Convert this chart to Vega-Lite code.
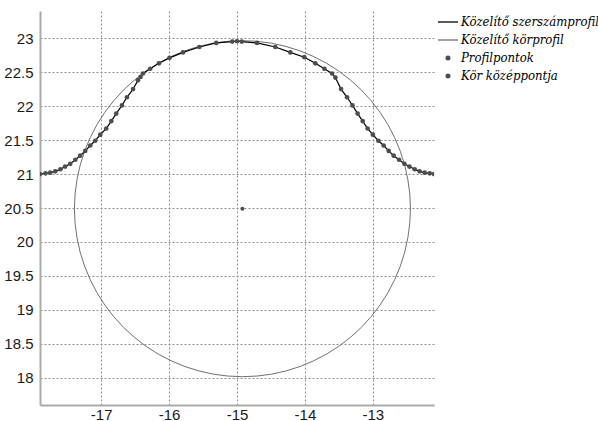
{
  "$schema": "https://vega.github.io/schema/vega-lite/v6.json",
  "width": 394,
  "height": 394,
  "autosize": "none",
  "padding": {"left": 40, "top": 11, "right": 164, "bottom": 16},
  "background": "white",
  "config": {
    "view": {"stroke": null},
    "axis": {
      "grid": true,
      "gridDash": [2, 2],
      "gridColor": "#8c8c8c",
      "gridWidth": 1,
      "domainColor": "#aaaaaa",
      "domainWidth": 2,
      "ticks": false,
      "labelFont": "Liberation Sans",
      "labelFontSize": 15,
      "labelColor": "#1a1a1a",
      "title": null
    },
    "legend": {
      "labelFont": "DejaVu Serif Condensed, DejaVu Serif",
      "labelFontStyle": "italic",
      "labelFontSize": 13,
      "labelColor": "#000000",
      "labelLimit": 0
    }
  },
  "datasets": {
    "profile": [
      {"x": -17.9, "y": 21.0}, {"x": -17.82, "y": 21.01}, {"x": -17.75, "y": 21.02},
      {"x": -17.676, "y": 21.04}, {"x": -17.6, "y": 21.07}, {"x": -17.53, "y": 21.11},
      {"x": -17.455, "y": 21.15}, {"x": -17.38, "y": 21.21}, {"x": -17.308, "y": 21.27},
      {"x": -17.234, "y": 21.34}, {"x": -17.16, "y": 21.42}, {"x": -17.087, "y": 21.49},
      {"x": -17.013, "y": 21.58}, {"x": -16.925, "y": 21.67}, {"x": -16.85, "y": 21.78},
      {"x": -16.778, "y": 21.89}, {"x": -16.694, "y": 22.01}, {"x": -16.62, "y": 22.13},
      {"x": -16.53, "y": 22.25}, {"x": -16.458, "y": 22.38}, {"x": -16.42, "y": 22.43},
      {"x": -16.384, "y": 22.48}, {"x": -16.277, "y": 22.55}, {"x": -16.149, "y": 22.63},
      {"x": -15.993, "y": 22.71}, {"x": -15.795, "y": 22.79}, {"x": -15.555, "y": 22.87},
      {"x": -15.305, "y": 22.93}, {"x": -15.07, "y": 22.95}, {"x": -15.0, "y": 22.955},
      {"x": -14.93, "y": 22.95}, {"x": -14.705, "y": 22.93}, {"x": -14.436, "y": 22.87},
      {"x": -14.215, "y": 22.79}, {"x": -14.009, "y": 22.72}, {"x": -13.847, "y": 22.63},
      {"x": -13.714, "y": 22.55}, {"x": -13.6, "y": 22.48}, {"x": -13.552, "y": 22.42},
      {"x": -13.468, "y": 22.25}, {"x": -13.38, "y": 22.13}, {"x": -13.3, "y": 22.01},
      {"x": -13.224, "y": 21.89}, {"x": -13.15, "y": 21.78}, {"x": -13.077, "y": 21.67},
      {"x": -13.0, "y": 21.58}, {"x": -12.919, "y": 21.49}, {"x": -12.841, "y": 21.42},
      {"x": -12.767, "y": 21.34}, {"x": -12.694, "y": 21.27}, {"x": -12.614, "y": 21.21},
      {"x": -12.536, "y": 21.15}, {"x": -12.462, "y": 21.11}, {"x": -12.384, "y": 21.07},
      {"x": -12.311, "y": 21.04}, {"x": -12.237, "y": 21.02}, {"x": -12.163, "y": 21.01},
      {"x": -12.1, "y": 21.0}
    ],
    "circle": [
      {"i": 0, "x": -12.447, "y": 20.49}, {"i": 1, "x": -12.456, "y": 20.706},
      {"i": 2, "x": -12.485, "y": 20.919}, {"i": 3, "x": -12.531, "y": 21.13},
      {"i": 4, "x": -12.596, "y": 21.336}, {"i": 5, "x": -12.679, "y": 21.535},
      {"i": 6, "x": -12.778, "y": 21.727}, {"i": 7, "x": -12.894, "y": 21.908},
      {"i": 8, "x": -13.026, "y": 22.08}, {"i": 9, "x": -13.171, "y": 22.239},
      {"i": 10, "x": -13.33, "y": 22.384}, {"i": 11, "x": -13.502, "y": 22.516},
      {"i": 12, "x": -13.684, "y": 22.632}, {"i": 13, "x": -13.875, "y": 22.731},
      {"i": 14, "x": -14.074, "y": 22.814}, {"i": 15, "x": -14.28, "y": 22.879},
      {"i": 16, "x": -14.491, "y": 22.926}, {"i": 17, "x": -14.705, "y": 22.954},
      {"i": 18, "x": -14.92, "y": 22.963}, {"i": 19, "x": -15.136, "y": 22.954},
      {"i": 20, "x": -15.349, "y": 22.926}, {"i": 21, "x": -15.56, "y": 22.879},
      {"i": 22, "x": -15.766, "y": 22.814}, {"i": 23, "x": -15.965, "y": 22.731},
      {"i": 24, "x": -16.157, "y": 22.632}, {"i": 25, "x": -16.339, "y": 22.516},
      {"i": 26, "x": -16.51, "y": 22.384}, {"i": 27, "x": -16.669, "y": 22.239},
      {"i": 28, "x": -16.814, "y": 22.08}, {"i": 29, "x": -16.946, "y": 21.908},
      {"i": 30, "x": -17.062, "y": 21.727}, {"i": 31, "x": -17.161, "y": 21.535},
      {"i": 32, "x": -17.244, "y": 21.336}, {"i": 33, "x": -17.309, "y": 21.13},
      {"i": 34, "x": -17.355, "y": 20.919}, {"i": 35, "x": -17.384, "y": 20.706},
      {"i": 36, "x": -17.393, "y": 20.49}, {"i": 37, "x": -17.384, "y": 20.274},
      {"i": 38, "x": -17.355, "y": 20.061}, {"i": 39, "x": -17.309, "y": 19.85},
      {"i": 40, "x": -17.244, "y": 19.644}, {"i": 41, "x": -17.161, "y": 19.445},
      {"i": 42, "x": -17.062, "y": 19.253}, {"i": 43, "x": -16.946, "y": 19.072},
      {"i": 44, "x": -16.814, "y": 18.9}, {"i": 45, "x": -16.669, "y": 18.741},
      {"i": 46, "x": -16.51, "y": 18.596}, {"i": 47, "x": -16.339, "y": 18.464},
      {"i": 48, "x": -16.157, "y": 18.348}, {"i": 49, "x": -15.965, "y": 18.249},
      {"i": 50, "x": -15.766, "y": 18.166}, {"i": 51, "x": -15.56, "y": 18.101},
      {"i": 52, "x": -15.349, "y": 18.054}, {"i": 53, "x": -15.136, "y": 18.026},
      {"i": 54, "x": -14.92, "y": 18.017}, {"i": 55, "x": -14.705, "y": 18.026},
      {"i": 56, "x": -14.491, "y": 18.054}, {"i": 57, "x": -14.28, "y": 18.101},
      {"i": 58, "x": -14.074, "y": 18.166}, {"i": 59, "x": -13.875, "y": 18.249},
      {"i": 60, "x": -13.684, "y": 18.348}, {"i": 61, "x": -13.502, "y": 18.464},
      {"i": 62, "x": -13.33, "y": 18.596}, {"i": 63, "x": -13.171, "y": 18.741},
      {"i": 64, "x": -13.026, "y": 18.9}, {"i": 65, "x": -12.894, "y": 19.072},
      {"i": 66, "x": -12.778, "y": 19.253}, {"i": 67, "x": -12.679, "y": 19.445},
      {"i": 68, "x": -12.596, "y": 19.644}, {"i": 69, "x": -12.531, "y": 19.85},
      {"i": 70, "x": -12.485, "y": 20.061}, {"i": 71, "x": -12.456, "y": 20.274},
      {"i": 72, "x": -12.447, "y": 20.49}
    ],
    "center": [{"x": -14.92, "y": 20.49}]
  },
  "encoding": {
    "x": {
      "field": "x",
      "type": "quantitative",
      "scale": {"domain": [-17.9, -12.1], "nice": false, "zero": false},
      "axis": {"values": [-17, -16, -15, -14, -13], "labelExpr": "'' + datum.value", "labelPadding": 2}
    },
    "y": {
      "field": "y",
      "type": "quantitative",
      "scale": {"domain": [17.6, 23.4], "nice": false, "zero": false},
      "axis": {"values": [18, 18.5, 19, 19.5, 20, 20.5, 21, 21.5, 22, 22.5, 23], "labelExpr": "'' + datum.value", "labelPadding": 7}
    }
  },
  "layer": [
    {
      "data": {"name": "circle"},
      "mark": {"type": "line", "strokeWidth": 1, "clip": true},
      "encoding": {
        "order": {"field": "i", "type": "quantitative"},
        "color": {
          "datum": "Közelítő körprofil",
          "type": "nominal",
          "scale": {
            "domain": ["Közelítő szerszámprofil", "Közelítő körprofil", "Profilpontok", "Kör középpontja"],
            "range": ["#000000", "#707070", "#4d4d4d", "#4d4d4d"]
          },
          "legend": {
            "orient": "none",
            "legendX": 397,
            "legendY": 0,
            "title": null,
            "padding": 0,
            "symbolType": "stroke",
            "symbolSize": 400,
            "symbolStrokeWidth": 1.2,
            "rowPadding": -1,
            "labelOffset": 2,
            "encode": {
              "symbols": {
                "update": {
                  "shape": {"signal": "(datum.value == 'Profilpontok' || datum.value == 'Kör középpontja') ? 'circle' : 'stroke'"},
                  "size": {"signal": "(datum.value == 'Profilpontok' || datum.value == 'Kör középpontja') ? 14 : 400"},
                  "fill": {"signal": "(datum.value == 'Profilpontok' || datum.value == 'Kör középpontja') ? '#4d4d4d' : 'transparent'"},
                  "stroke": {"signal": "datum.value == 'Közelítő szerszámprofil' ? '#000000' : datum.value == 'Közelítő körprofil' ? '#a0a0a0' : 'transparent'"},
                  "strokeWidth": {"value": 1.3},
                  "opacity": {"value": 1}
                }
              }
            }
          }
        }
      }
    },
    {
      "data": {"name": "profile"},
      "mark": {"type": "line", "strokeWidth": 1.2, "clip": true},
      "encoding": {
        "color": {"datum": "Közelítő szerszámprofil", "type": "nominal"}
      }
    },
    {
      "data": {"name": "profile"},
      "mark": {"type": "point", "filled": true, "size": 22, "opacity": 1, "clip": true},
      "encoding": {
        "color": {"datum": "Profilpontok", "type": "nominal"}
      }
    },
    {
      "data": {"name": "center"},
      "mark": {"type": "point", "filled": true, "size": 16, "opacity": 1},
      "encoding": {
        "color": {"datum": "Kör középpontja", "type": "nominal"}
      }
    }
  ]
}
